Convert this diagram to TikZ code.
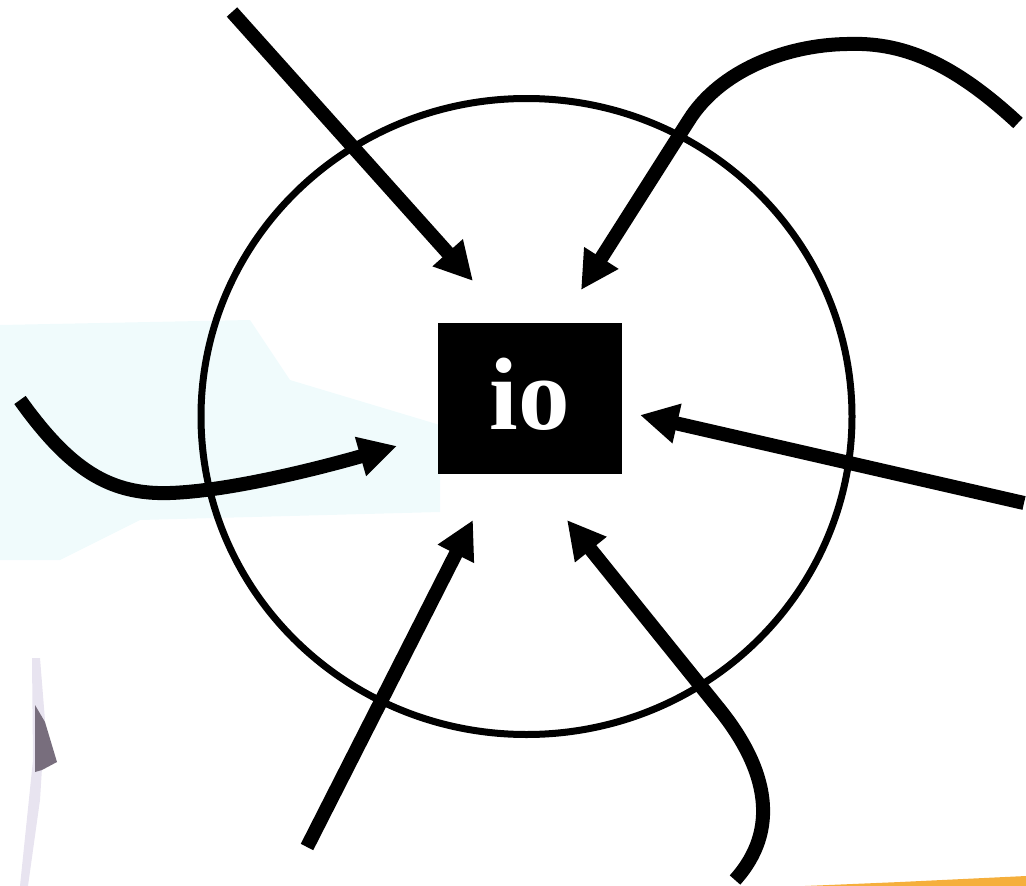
\documentclass[tikz,border=0pt]{standalone}
\usepackage{fontspec}
\setmainfont{Liberation Serif}
\newfontfamily\iofont{Liberation Serif Bold}
\usetikzlibrary{arrows.meta}
\definecolor{bgcyan}{RGB}{240,251,252}
\definecolor{sliverlight}{RGB}{232,228,240}
\definecolor{sliverdark}{RGB}{120,110,125}
\definecolor{streak}{RGB}{245,175,60}
\begin{document}
\begin{tikzpicture}[x=1pt,y=-1pt,
  flow/.style={line width=14pt, -{Triangle[length=38pt,width=38pt]}},
  ring/.style={line width=7pt},
  blackbox/.style={fill=black, draw=none, minimum width=184pt, minimum height=151pt, inner sep=0pt},
  iolabel/.style={text=white, font=\iofont\fontsize{103}{103}\selectfont, inner sep=0pt, anchor=base}]
\useasboundingbox (0,0) rectangle (1026,886);
% background artefacts
\fill[bgcyan] (0,325) -- (250,320) -- (290,380) -- (440,425) -- (440,512) -- (140,520) -- (60,560) -- (0,560) -- cycle;
\fill[sliverlight] (32,658) -- (40,658) -- (45,720) -- (40,800) -- (28,886) -- (20,886) -- (33,760) -- cycle;
\fill[sliverdark] (35,705) -- (45,722) -- (57,762) -- (42,770) -- (35,772) -- cycle;
\fill[streak] (805,886) -- (900,882) -- (1026,876) -- (1026,886) -- cycle;
% circle
\draw[ring] (526.5,416.5) ellipse [x radius=325.5pt, y radius=318pt];
% central box
\node[blackbox] (box) at (530,398.5) {};
\node[iolabel] (lbl) at (529.5,429) {io};
% endpoints
\coordinate (s1) at (232,12);   \coordinate (e1) at (473,281);
\coordinate (s2) at (1018,123); \coordinate (e2) at (581,290);
\coordinate (s3) at (20,400);   \coordinate (e3) at (397,446);
\coordinate (s4) at (1024,503); \coordinate (e4) at (640,415);
\coordinate (s5) at (307,847);  \coordinate (e5) at (473,520);
\coordinate (s6) at (735,880);  \coordinate (e6) at (567,520);
% arrows
\draw[flow] (s1) -- (e1);
\draw[flow] (s2) .. controls (950,60) and (900,42) .. (847,44) .. controls (785,45) and (720,71) .. (689,120) -- (e2);
\draw[flow] (s3) .. controls (70,470) and (110,495) .. (170,493) .. controls (230,491) and (320,468) .. (e3);
\draw[flow] (s4) -- (e4);
\draw[flow] (s5) -- (e5);
\draw[flow] (s6) .. controls (780,830) and (768,770) .. (720,710) -- (e6);
\end{tikzpicture}
\end{document}
